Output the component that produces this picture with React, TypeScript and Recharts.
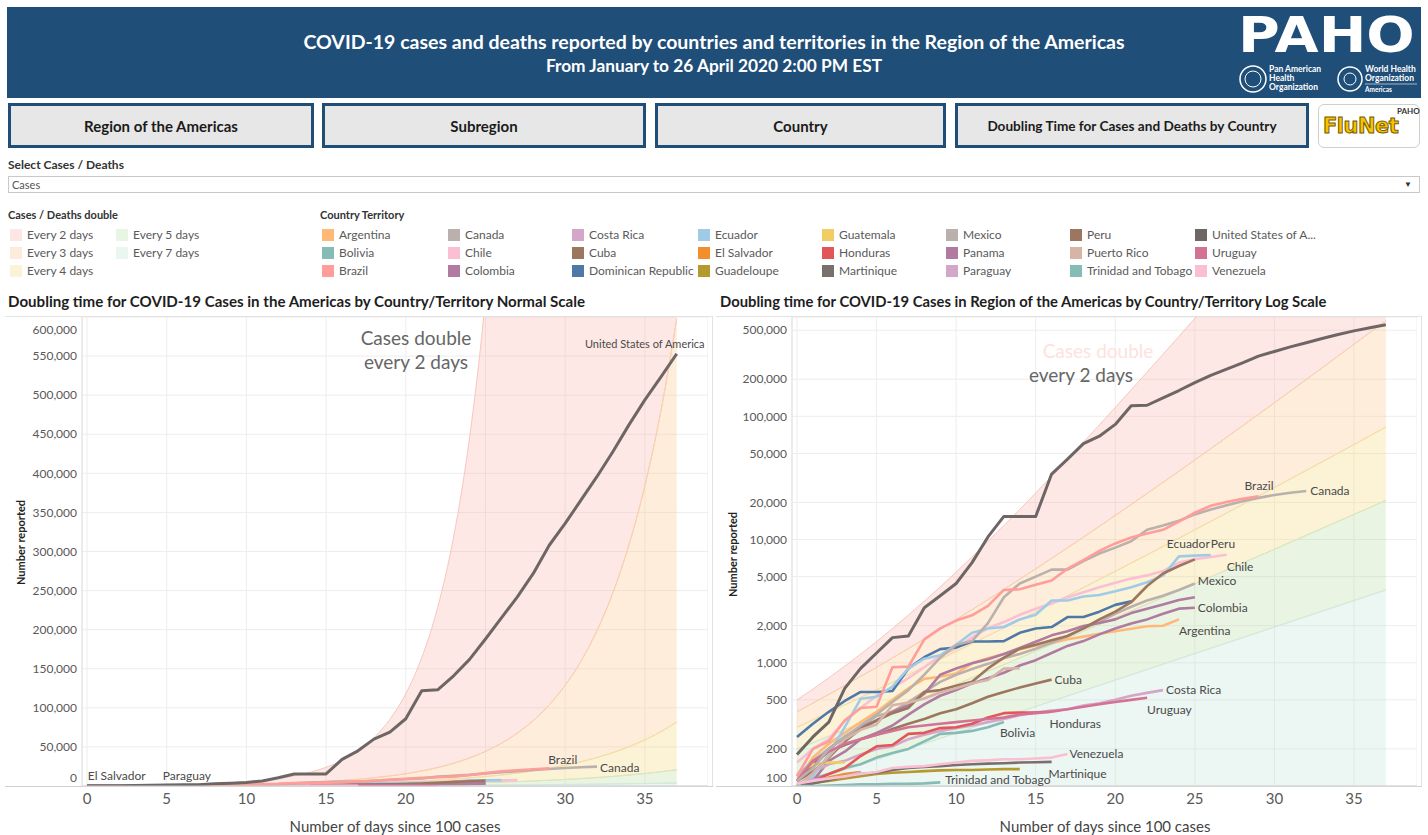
import React from 'react';
import { ComposedChart, Line, Area, XAxis, YAxis, CartesianGrid } from 'recharts';

const FONT = "Lato, 'Noto Sans', sans-serif";
const BLUE = '#1f4e78';

// x axis: days since 100 cases
const days = [0, 1, 2, 3, 4, 5, 6, 7, 8, 9, 10, 11, 12, 13, 14, 15, 16, 17, 18, 19, 20, 21, 22, 23, 24, 25, 26, 27, 28, 29, 30, 31, 32, 33, 34, 35, 36, 37];
const dayTicks = [0, 5, 10, 15, 20, 25, 30, 35];
const linTicks = [0, 50000, 100000, 150000, 200000, 250000, 300000, 350000, 400000, 450000, 500000, 550000, 600000];
const logTicks = [100, 200, 500, 1000, 2000, 5000, 10000, 20000, 50000, 100000, 200000, 500000];

// doubling bands (stacked: 7 days at the bottom, 2 days on top)
const band2 = [100, 141, 200, 283, 400, 566, 800, 1131, 1600, 2263, 3200, 4525, 6400, 9051, 12800, 18102, 25600, 36204, 51200, 72408, 102400, 144815, 204800, 289631, 409600, 579262, 819200, 1158524, 1638400, 2317047, 3276800, 4634095, 6553600, 9268190, 13107200, 18536380, 26214400, 37072760];
const band3 = [100, 126, 159, 200, 252, 317, 400, 504, 635, 800, 1008, 1270, 1600, 2016, 2540, 3200, 4032, 5080, 6400, 8063, 10159, 12800, 16127, 20319, 25600, 32254, 40637, 51200, 64508, 81275, 102400, 129016, 162550, 204800, 258032, 325100, 409600, 516064];
const band4 = [100, 119, 141, 168, 200, 238, 283, 336, 400, 476, 566, 673, 800, 951, 1131, 1345, 1600, 1903, 2263, 2691, 3200, 3806, 4525, 5382, 6400, 7611, 9051, 10764, 12800, 15222, 18102, 21527, 25600, 30444, 36204, 43054, 51200, 60888];
const band5 = [100, 115, 132, 152, 174, 200, 230, 264, 303, 348, 400, 459, 528, 606, 696, 800, 919, 1056, 1213, 1393, 1600, 1838, 2111, 2425, 2786, 3200, 3676, 4222, 4850, 5572, 6400, 7352, 8445, 9701, 11143, 12800, 14703, 16890];
const band7 = [100, 110, 122, 135, 149, 164, 181, 200, 221, 244, 269, 297, 328, 362, 400, 442, 488, 538, 595, 656, 725, 800, 883, 975, 1077, 1189, 1312, 1449, 1600, 1767, 1950, 2153, 2378, 2625, 2899, 3200, 3533, 3901];

// cumulative cases per country, one value per day since 100 cases
const argentina = [110, 170, 220, 270, 330, 400, 500, 620, 740, 770, 820, 990, 1090, 1180, 1280, 1380, 1450, 1550, 1630, 1720, 1800, 1890, 1980, 2000, 2250];
const bolivia = [105, 115, 125, 140, 150, 170, 185, 200, 230, 265, 270, 280, 300, 330];
const brazil = [120, 200, 230, 340, 430, 440, 920, 930, 1550, 1900, 2200, 2430, 2900, 3900, 3950, 4300, 4650, 5800, 6800, 8100, 9300, 10400, 11200, 12000, 14000, 16500, 18800, 20200, 21400, 22500];
const canada = [110, 140, 200, 250, 310, 380, 480, 600, 800, 1100, 1400, 1500, 2100, 3400, 4400, 5000, 5700, 5700, 6700, 7700, 8600, 9700, 12000, 13000, 14200, 16000, 17500, 19000, 20500, 21800, 23000, 24000, 24800];
const chile = [155, 200, 240, 340, 430, 540, 630, 750, 920, 1140, 1310, 1610, 1910, 2140, 2450, 2740, 3030, 3400, 3740, 4110, 4470, 4820, 5120, 5550, 6500, 6930, 7210, 7520];
const colombia = [100, 110, 160, 190, 240, 270, 310, 380, 460, 540, 600, 680, 750, 830, 950, 1050, 1200, 1370, 1500, 1700, 1900, 2080, 2250, 2500, 2750, 2800];
const costaRica = [115, 130, 150, 160, 180, 200, 210, 240, 260, 280, 295, 310, 330, 350, 375, 395, 410, 420, 450, 470, 500, 540, 570, 600];
const cuba = [110, 150, 190, 215, 240, 260, 290, 320, 350, 390, 420, 470, 530, 580, 630, 680, 730];
const dominicanRepublic = [250, 320, 400, 490, 580, 580, 590, 900, 1110, 1290, 1330, 1490, 1490, 1500, 1750, 1900, 1950, 2350, 2350, 2600, 2950, 3150];
const ecuador = [100, 120, 180, 300, 510, 530, 640, 900, 1080, 1150, 1400, 1750, 1900, 1950, 2250, 2450, 3200, 3200, 3450, 3550, 3800, 4100, 4500, 5100, 7300, 7400, 7500];
const elSalvador = [100, 108, 117, 125, 130];
const guadeloupe = [100, 106, 110, 115, 120, 125, 128, 130, 132, 134, 135, 135, 136, 137, 137];
const guatemala = [125, 150, 155, 155];
const honduras = [100, 110, 125, 140, 175, 210, 215, 265, 270, 295, 300, 320, 360, 390, 395, 395, 400];
const martinique = [100, 105, 112, 120, 125, 128, 135, 140, 143, 145, 148, 150, 152, 153, 155, 156, 157];
const mexico = [120, 160, 200, 250, 300, 370, 400, 480, 580, 700, 800, 890, 980, 1090, 1180, 1300, 1450, 1650, 1900, 2150, 2500, 2850, 3200, 3500, 3900, 4400];
const panama = [110, 140, 200, 250, 300, 340, 400, 450, 560, 800, 900, 990, 1070, 1180, 1320, 1480, 1670, 1800, 1990, 2100, 2250, 2530, 2750, 2970, 3230, 3400];
const paraguay = [104, 113, 115, 119, 129];
const peru = [110, 130, 170, 230, 290, 340, 390, 430, 580, 600, 650, 700, 900, 1100, 1300, 1400, 1520, 1650, 1900, 2250, 2600, 3100, 4200, 5300, 6100, 6900];
const puertoRico = [100, 127, 174, 239, 286, 316, 452, 475, 513, 573, 620, 683, 725, 897, 903];
const trinidadAndTobago = [100, 100, 101, 102, 103, 103, 104, 104, 105, 107];
const unitedStates = [180, 250, 330, 620, 900, 1200, 1600, 1650, 2800, 3500, 4400, 6500, 10500, 15400, 15400, 15400, 34000, 45000, 60000, 69000, 86000, 122000, 123000, 141000, 162000, 188000, 215000, 242000, 272000, 308000, 336000, 366000, 396000, 428000, 462000, 494000, 523000, 553000];
const uruguay = [110, 160, 190, 220, 240, 260, 280, 300, 310, 320, 330, 340, 350, 360, 380, 390, 400, 420, 440, 460, 480, 500, 520];
const venezuela = [105, 110, 115, 120, 125, 130, 140, 143, 145, 150, 155, 160, 162, 165, 165, 167, 170, 182];

const countries = [
  { name: 'Argentina', values: argentina, color: '#ffb977' },
  { name: 'Bolivia', values: bolivia, color: '#86bcb6' },
  { name: 'Brazil', values: brazil, color: '#ff9d9a' },
  { name: 'Canada', values: canada, color: '#bab0ac' },
  { name: 'Chile', values: chile, color: '#fabfd2' },
  { name: 'Colombia', values: colombia, color: '#b07aa1' },
  { name: 'Costa Rica', values: costaRica, color: '#d4a6c8' },
  { name: 'Cuba', values: cuba, color: '#9d7660' },
  { name: 'Dominican Republic', values: dominicanRepublic, color: '#4e79a7' },
  { name: 'Ecuador', values: ecuador, color: '#a0cbe8' },
  { name: 'El Salvador', values: elSalvador, color: '#f28e2b' },
  { name: 'Guadeloupe', values: guadeloupe, color: '#b6992d' },
  { name: 'Guatemala', values: guatemala, color: '#f1ce63' },
  { name: 'Honduras', values: honduras, color: '#e15759' },
  { name: 'Martinique', values: martinique, color: '#79706e' },
  { name: 'Mexico', values: mexico, color: '#bab0ac' },
  { name: 'Panama', values: panama, color: '#b07aa1' },
  { name: 'Paraguay', values: paraguay, color: '#d4a6c8' },
  { name: 'Peru', values: peru, color: '#9d7660' },
  { name: 'Puerto Rico', values: puertoRico, color: '#d7b5a6' },
  { name: 'Trinidad and Tobago', values: trinidadAndTobago, color: '#86bcb6' },
  { name: 'United States of America', values: unitedStates, color: '#6e6664' },
  { name: 'Uruguay', values: uruguay, color: '#d37295' },
  { name: 'Venezuela', values: venezuela, color: '#fabfd2' },
];

const doublingLegend = [
  { label: 'Every 2 days', color: '#fde7e4' },
  { label: 'Every 3 days', color: '#fdebdc' },
  { label: 'Every 4 days', color: '#fcf2d8' },
  { label: 'Every 5 days', color: '#e9f5e3' },
  { label: 'Every 7 days', color: '#ecf6f1' },
];

// table for the bands, stacked by hand
const bandRows = days.map((day, i) => {
  const c7 = band7[i];
  const c5 = c7 + band5[i];
  const c4 = c5 + band4[i];
  const c3 = c4 + band3[i];
  const c2 = c3 + band2[i];
  return { day, c7, c5, c4, c3, c2 };
});

// draw order: Canada, Brazil, USA on top
const drawOrder = [
  ...countries.filter((c) => !['Canada', 'Brazil', 'United States of America'].includes(c.name)),
  ...['Canada', 'Brazil', 'United States of America'].map((n) => countries.find((c) => c.name === n)!),
].map((c) => ({ ...c, points: c.values.map((v, i) => ({ day: days[i], v })) }));

type LabelCfg = { dx: number; dy: number; anchor?: string; size?: number };

const normalLabels: Record<string, LabelCfg> = {
  'United States of America': { dx: -32, dy: -10, anchor: 'middle', size: 11 },
  Brazil: { dx: -1, dy: -9 },
  Canada: { dx: 3, dy: 1 },
  'El Salvador': { dx: -63, dy: -10 },
  Paraguay: { dx: 12, dy: -10 },
};

const logLabels: Record<string, LabelCfg> = {
  Brazil: { dx: -14, dy: -10 },
  Canada: { dx: 4, dy: 0 },
  Ecuador: { dx: -1, dy: -11, anchor: 'end' },
  Peru: { dx: 16, dy: -16 },
  Chile: { dx: 0, dy: 12 },
  Mexico: { dx: 3, dy: -3 },
  Colombia: { dx: 3, dy: 0 },
  Argentina: { dx: 0, dy: 11 },
  Cuba: { dx: 3, dy: 0 },
  'Costa Rica': { dx: 3, dy: 0 },
  Uruguay: { dx: 0, dy: 12 },
  Honduras: { dx: -2, dy: 12 },
  Bolivia: { dx: -4, dy: 11 },
  Venezuela: { dx: 2, dy: 0 },
  Martinique: { dx: -3, dy: 12 },
  'Trinidad and Tobago': { dx: 5, dy: -3 },
};

const YTick = (props: any) => {
  const { x, y, payload, topValue, bottomValue } = props;
  let shift = 0;
  if (payload.value === bottomValue) shift = -8;
  if (payload.value === topValue) shift = 4;
  return (
    <text x={x} y={y + shift} dy="0.35em" textAnchor="end" fontSize={12} fill="#595959" fontFamily={FONT}>
      {Number(payload.value).toLocaleString('en-US')}
    </text>
  );
};

const makeEndLabel = (name: string, last: number, cfg: LabelCfg) => (p: any) => {
  if (p.index !== last) return <g key={`${name}-${p.index}`} />;
  return (
    <text
      key={`${name}-lbl`}
      x={p.cx + cfg.dx}
      y={p.cy + cfg.dy}
      dy="0.35em"
      textAnchor={cfg.anchor || 'start'}
      fontSize={cfg.size || 12}
      fill="#4a4a4a"
      fontFamily={FONT}
    >
      {name}
    </text>
  );
};

function DoublingChart({ log, width, labels }: { log: boolean; width: number; labels: Record<string, LabelCfg> }) {
  return (
    <ComposedChart width={width} height={518} data={bandRows} margin={{ top: 0, right: 0, bottom: 0, left: 0 }}>
      <CartesianGrid stroke="#ededed" />
      <XAxis
        type="number"
        dataKey="day"
        domain={[-0.314, 38.96]}
        ticks={dayTicks}
        allowDataOverflow
        tickLine={false}
        tickSize={4}
        tickMargin={3}
        height={49}
        axisLine={{ stroke: '#d0d0d0' }}
        tick={{ fontSize: 15, fill: '#595959', fontFamily: FONT }}
      />
      <YAxis
        type="number"
        scale={log ? 'log' : 'linear'}
        domain={log ? [100, 640000] : [0, 600000]}
        ticks={log ? logTicks : linTicks}
        allowDataOverflow
        width={log ? 76 : 77}
        tickLine={false}
        tickSize={3}
        tickMargin={2}
        axisLine={{ stroke: '#e0e0e0' }}
        tick={<YTick topValue={log ? -1 : 600000} bottomValue={log ? 100 : 0} />}
      />
      <Area type="monotone" dataKey={(r: any) => [r.c3, r.c2]} fill="#fbb4aa" fillOpacity={0.3} stroke="#f8c6bd" strokeWidth={1} isAnimationActive={false} />
      <Area type="monotone" dataKey={(r: any) => [r.c4, r.c3]} fill="#fbc88e" fillOpacity={0.33} stroke="#f9d3ad" strokeWidth={1} isAnimationActive={false} />
      <Area type="monotone" dataKey={(r: any) => [r.c5, r.c4]} fill="#f5dc85" fillOpacity={0.33} stroke="#f2e0a6" strokeWidth={1} isAnimationActive={false} />
      <Area type="monotone" dataKey={(r: any) => [r.c7, r.c5]} fill="#b9dba0" fillOpacity={0.3} stroke="#d4e9c6" strokeWidth={1} isAnimationActive={false} />
      <Area type="monotone" dataKey="c7" fill="#b9e0cf" fillOpacity={0.28} stroke="#d3eadf" strokeWidth={1} isAnimationActive={false} />
      {drawOrder.map((s) => {
        const cfg = labels[s.name];
        return (
          <Line
            key={s.name}
            data={s.points}
            dataKey="v"
            type="linear"
            stroke={s.color}
            strokeWidth={s.name === 'United States of America' ? 3 : 2.6}
            strokeLinejoin="round"
            dot={cfg ? makeEndLabel(s.name, s.points.length - 1, cfg) : false}
            activeDot={false}
            isAnimationActive={false}
          />
        );
      })}
    </ComposedChart>
  );
}

const abs = (left: number, top: number, extra: React.CSSProperties = {}): React.CSSProperties => ({
  position: 'absolute',
  left,
  top,
  ...extra,
});

function Button({ left, width, text, size = 15 }: { left: number; width: number; text: string; size?: number }) {
  return (
    <div
      style={abs(left, 103, {
        width,
        height: 45,
        boxSizing: 'border-box',
        border: `3px solid ${BLUE}`,
        background: '#e7e7e7',
        display: 'flex',
        alignItems: 'center',
        justifyContent: 'center',
        fontWeight: 700,
        fontSize: size,
        color: '#1b1b1b',
      })}
    >
      {text}
    </div>
  );
}

function Swatch({ left, top, color, label }: { left: number; top: number; color: string; label: string }) {
  return (
    <div style={abs(left, top, { display: 'flex', alignItems: 'center', whiteSpace: 'nowrap' })}>
      <div style={{ width: 12, height: 12, background: color, marginRight: 5 }} />
      <span style={{ fontSize: 12, color: '#5a5a5a' }}>{label}</span>
    </div>
  );
}

export default function App() {
  const legendCols = [322, 448, 572, 698, 822, 946, 1070, 1195];
  const rows = [227, 245, 263];
  return (
    <div style={abs(0, 0, { width: 1428, height: 835, overflow: 'hidden', background: '#fff', fontFamily: FONT })}>
      {/* header */}
      <div style={abs(7, 7, { width: 1414, height: 91, background: BLUE })}>
        <div style={abs(0, 23, { width: 1414, textAlign: 'center', color: '#fff', fontWeight: 700, fontSize: 19.5 })}>
          COVID-19 cases and deaths reported by countries and territories in the Region of the Americas
        </div>
        <div style={abs(0, 48, { width: 1414, textAlign: 'center', color: '#fff', fontWeight: 700, fontSize: 17.3 })}>
          From January to 26 April 2020 2:00 PM EST
        </div>
        <div
          style={abs(1231, 2, {
            color: '#fff',
            fontFamily: "'DejaVu Sans', sans-serif",
            fontWeight: 700,
            fontSize: 50,
            lineHeight: '52px',
            transform: 'scaleX(1.14)',
            transformOrigin: 'left top',
          })}
        >
          PAHO
        </div>
        <svg style={abs(1232, 56)} width={180} height={34}>
          <circle cx={14} cy={16} r={13} fill="none" stroke="#fff" strokeWidth={1.5} />
          <circle cx={14} cy={16} r={8} fill="none" stroke="#fff" strokeWidth={1} />
          <text x={30} y={9} fill="#fff" fontSize={8.5} fontWeight={700} fontFamily={FONT}>Pan American</text>
          <text x={30} y={18} fill="#fff" fontSize={8.5} fontWeight={700} fontFamily={FONT}>Health</text>
          <text x={30} y={27} fill="#fff" fontSize={8.5} fontWeight={700} fontFamily={FONT}>Organization</text>
          <circle cx={111} cy={16} r={12} fill="none" stroke="#fff" strokeWidth={1.5} />
          <circle cx={111} cy={16} r={6} fill="none" stroke="#fff" strokeWidth={1} />
          <text x={126} y={9} fill="#fff" fontSize={8.5} fontWeight={700} fontFamily={FONT}>World Health</text>
          <text x={126} y={18} fill="#fff" fontSize={8.5} fontWeight={700} fontFamily={FONT}>Organization</text>
          <line x1={126} y1={21} x2={178} y2={21} stroke="#fff" strokeWidth={0.6} />
          <text x={126} y={29} fill="#fff" fontSize={6.5} fontWeight={700} fontFamily={FONT}>Americas</text>
        </svg>
      </div>

      {/* navigation buttons */}
      <Button left={8} width={306} text="Region of the Americas" />
      <Button left={322} width={324} text="Subregion" />
      <Button left={655} width={291} text="Country" />
      <Button left={955} width={354} text="Doubling Time for Cases and Deaths by Country" size={13.6} />
      <div style={abs(1318, 104, { width: 102, height: 44, boxSizing: 'border-box', border: '1px solid #cfcfcf', borderRadius: 6, background: '#fff' })}>
        <div
          style={abs(4, 9, {
            fontSize: 21,
            fontWeight: 900,
            color: '#f5c300',
            fontFamily: "'DejaVu Sans', sans-serif",
            WebkitTextStroke: '1px #7a5a00',
            letterSpacing: -0.5,
            lineHeight: '24px',
          })}
        >
          FluNet
        </div>
        <div style={abs(78, 1, { fontSize: 8, fontWeight: 700, color: '#333' })}>PAHO</div>
      </div>

      {/* filter */}
      <div style={abs(8, 157, { fontSize: 12, fontWeight: 700, color: '#333' })}>Select Cases / Deaths</div>
      <div style={abs(8, 176, { width: 1412, height: 17, boxSizing: 'border-box', border: '1px solid #c9c9c9', background: '#fff' })}>
        <div style={abs(3, 0, { fontSize: 11, color: '#555', lineHeight: '15px' })}>Cases</div>
        <div style={abs(1395, 0, { fontSize: 8, color: '#333', lineHeight: '15px' })}>▼</div>
      </div>

      {/* legends */}
      <div style={abs(8, 208, { fontSize: 11, fontWeight: 700, color: '#333' })}>Cases / Deaths double</div>
      {doublingLegend.map((d, i) => (
        <Swatch key={d.label} left={i < 3 ? 10 : 116} top={rows[i % 3]} color={d.color} label={d.label} />
      ))}
      <div style={abs(320, 208, { fontSize: 11, fontWeight: 700, color: '#333' })}>Country Territory</div>
      {countries.map((c, i) => (
        <Swatch
          key={c.name}
          left={legendCols[Math.floor(i / 3)]}
          top={rows[i % 3]}
          color={c.color}
          label={c.name === 'United States of America' ? 'United States of A...' : c.name}
        />
      ))}

      {/* chart titles */}
      <div style={abs(8, 292, { fontSize: 15.1, fontWeight: 700, color: '#1e1e1e' })}>
        Doubling time for COVID-19 Cases in the Americas by Country/Territory Normal Scale
      </div>
      <div style={abs(720, 292, { fontSize: 14.8, fontWeight: 700, color: '#1e1e1e' })}>
        Doubling time for COVID-19 Cases in Region of the Americas by Country/Territory Log Scale
      </div>

      {/* frames */}
      <div style={abs(5, 316, { width: 707, height: 470, borderTop: '1px solid #e2e2e2', borderRight: '1px solid #e2e2e2' })} />
      <div style={abs(716, 316, { width: 705, height: 470, borderTop: '1px solid #e2e2e2', borderRight: '1px solid #e2e2e2' })} />
      <div style={abs(5, 786, { width: 708, height: 1, background: '#d0d0d0' })} />
      <div style={abs(716, 786, { width: 706, height: 1, background: '#d0d0d0' })} />

      <div style={abs(5, 317)}>
        <DoublingChart log={false} width={703} labels={normalLabels} />
      </div>
      <div style={abs(716, 317)}>
        <DoublingChart log width={701} labels={logLabels} />
      </div>

      {/* annotations */}
      <div style={abs(316, 326, { width: 200, textAlign: 'center', fontSize: 19, color: '#666', lineHeight: '24px' })}>
        Cases double
        <br />
        every 2 days
      </div>
      <div style={abs(998, 339, { width: 200, textAlign: 'center', fontSize: 19, color: '#fde2dd', lineHeight: '24px' })}>Cases double</div>
      <div style={abs(981, 363, { width: 200, textAlign: 'center', fontSize: 19, color: '#666', lineHeight: '24px' })}>every 2 days</div>

      {/* axis titles */}
      <div style={abs(-30, 536, { width: 100, textAlign: 'center', transform: 'rotate(-90deg)', fontSize: 11, fontWeight: 700, color: '#222' })}>
        Number reported
      </div>
      <div style={abs(682, 548, { width: 100, textAlign: 'center', transform: 'rotate(-90deg)', fontSize: 11, fontWeight: 700, color: '#222' })}>
        Number reported
      </div>
      <div style={abs(245, 817, { width: 300, textAlign: 'center', fontSize: 15, color: '#444' })}>Number of days since 100 cases</div>
      <div style={abs(955, 817, { width: 300, textAlign: 'center', fontSize: 15, color: '#444' })}>Number of days since 100 cases</div>
    </div>
  );
}
